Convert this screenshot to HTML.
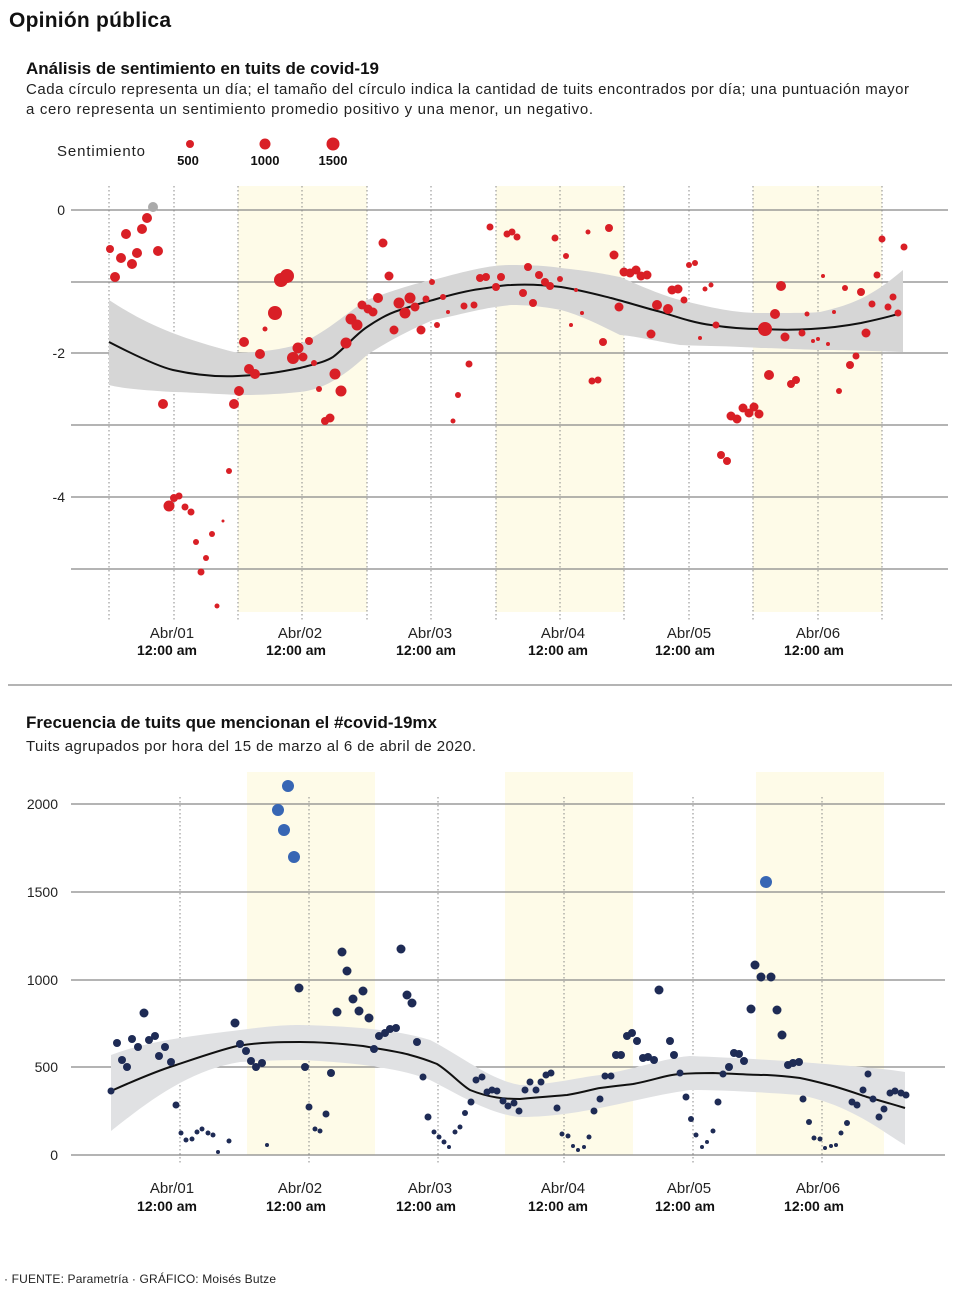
<!DOCTYPE html>
<html><head><meta charset="utf-8"><style>
html,body{margin:0;padding:0;background:#fff}
svg{display:block;font-family:"Liberation Sans",sans-serif}
</style></head><body>
<svg width="958" height="1290" viewBox="0 0 958 1290" xmlns="http://www.w3.org/2000/svg">
<rect width="958" height="1290" fill="#fff"/>
<text x="9" y="27" font-size="21" font-weight="bold" fill="#111" textLength="162">Opinión pública</text>
<text x="26" y="74" font-size="17" font-weight="bold" fill="#111" textLength="353">Análisis de sentimiento en tuits de covid-19</text>
<text x="26" y="94" font-size="15" fill="#222" textLength="883">Cada círculo representa un día; el tamaño del círculo indica la cantidad de tuits encontrados por día; una puntuación mayor</text>
<text x="26" y="114" font-size="15" fill="#222" textLength="567">a cero representa un sentimiento promedio positivo y una menor, un negativo.</text>
<text x="57" y="156" font-size="15" fill="#222" textLength="88">Sentimiento</text>
<circle cx="190" cy="144" r="4" fill="#d91f26"/><circle cx="265" cy="144" r="5.5" fill="#d91f26"/><circle cx="333" cy="144" r="6.5" fill="#d91f26"/>
<g font-size="13" font-weight="bold" fill="#111" text-anchor="middle"><text x="188" y="165">500</text><text x="265" y="165">1000</text><text x="333" y="165">1500</text></g>

<!-- top chart -->
<g fill="#fefbe8"><rect x="238" y="186" width="129" height="426"/><rect x="496" y="186" width="128" height="426"/><rect x="753" y="186" width="129" height="426"/></g>
<g stroke="#888" stroke-width="1.2"><line x1="71" y1="210" x2="948" y2="210"/><line x1="71" y1="282" x2="948" y2="282"/><line x1="71" y1="353" x2="948" y2="353"/><line x1="71" y1="425" x2="948" y2="425"/><line x1="71" y1="497" x2="948" y2="497"/><line x1="71" y1="569" x2="948" y2="569"/></g>
<g stroke="#888" stroke-width="1" stroke-dasharray="1.5,2.5"><line x1="109" y1="186" x2="109" y2="622"/><line x1="174" y1="186" x2="174" y2="622"/><line x1="238" y1="186" x2="238" y2="622"/><line x1="302" y1="186" x2="302" y2="622"/><line x1="367" y1="186" x2="367" y2="622"/><line x1="431" y1="186" x2="431" y2="622"/><line x1="496" y1="186" x2="496" y2="622"/><line x1="560" y1="186" x2="560" y2="622"/><line x1="624" y1="186" x2="624" y2="622"/><line x1="689" y1="186" x2="689" y2="622"/><line x1="753" y1="186" x2="753" y2="622"/><line x1="818" y1="186" x2="818" y2="622"/><line x1="882" y1="186" x2="882" y2="622"/></g>
<g font-size="14" fill="#222" text-anchor="end"><text x="65" y="215">0</text><text x="65" y="358">-2</text><text x="65" y="502">-4</text></g>
<path d="M109,300 C140,320 170,336 238,353 C270,352 290,347 300,344 C330,330 350,310 367,300 C400,288 420,282 433,280 C470,270 490,265 511,265 C540,265 555,267 561,268 C590,271 605,274 620,277 C650,290 665,296 680,300 C720,310 740,313 761,313 C790,313 810,313 820,312 C850,305 870,298 903,270 L903,352 C870,351 850,350 820,350 C790,349 770,348 761,348 C730,346 700,346 680,345 C650,340 635,336 620,335 C600,325 580,315 561,310 C540,306 525,305 511,305 C480,308 460,315 433,320 C410,330 390,340 367,355 C340,380 320,390 300,392 C270,395 250,395 238,395 C200,393 180,392 173,392 C140,390 120,388 109,385 Z" fill="#d6d6d6"/>
<path d="M109,342 C140,358 160,367 173,370 C200,376 220,377 238,376 C265,375 285,371 300,368 C315,364 325,362 333,357 C345,348 355,335 367,327 C380,318 390,313 400,310 C415,305 425,302 433,300 C450,295 465,291 480,289 C495,287 503,285 511,285 C530,284 545,285 561,287 C580,290 595,294 611,298 C630,303 645,308 661,312 C680,318 695,323 711,325 C730,328 745,329 761,329 C780,330 795,330 811,329 C830,328 845,326 861,323 C875,320 888,317 898,314" fill="none" stroke="#111" stroke-width="2"/>
<g fill="#d91f26">
<circle cx="110" cy="249" r="4"/><circle cx="115" cy="277" r="5"/><circle cx="121" cy="258" r="5"/><circle cx="126" cy="234" r="5"/><circle cx="132" cy="264" r="5"/><circle cx="137" cy="253" r="5"/><circle cx="142" cy="229" r="5"/><circle cx="147" cy="218" r="5"/><circle cx="158" cy="251" r="5"/><circle cx="163" cy="404" r="5"/><circle cx="169" cy="506" r="5.5"/><circle cx="174" cy="498" r="4"/><circle cx="179" cy="496" r="3.5"/><circle cx="185" cy="507" r="3.5"/><circle cx="191" cy="512" r="3.5"/><circle cx="196" cy="542" r="3"/><circle cx="201" cy="572" r="3.5"/><circle cx="206" cy="558" r="3"/><circle cx="212" cy="534" r="3"/><circle cx="217" cy="606" r="2.5"/><circle cx="223" cy="521" r="1.5"/><circle cx="229" cy="471" r="3"/><circle cx="234" cy="404" r="5"/><circle cx="239" cy="391" r="5"/><circle cx="244" cy="342" r="5"/><circle cx="249" cy="369" r="5"/><circle cx="255" cy="374" r="5"/><circle cx="260" cy="354" r="5"/><circle cx="265" cy="329" r="2.5"/><circle cx="275" cy="313" r="7"/><circle cx="281" cy="280" r="7"/><circle cx="287" cy="276" r="7"/><circle cx="293" cy="358" r="6"/><circle cx="298" cy="348" r="5.5"/><circle cx="303" cy="357" r="4.5"/><circle cx="309" cy="341" r="4"/><circle cx="314" cy="363" r="3"/><circle cx="319" cy="389" r="3"/><circle cx="325" cy="421" r="4"/><circle cx="330" cy="418" r="4.5"/><circle cx="335" cy="374" r="5.5"/><circle cx="341" cy="391" r="5.5"/><circle cx="346" cy="343" r="5.5"/><circle cx="351" cy="319" r="5.5"/><circle cx="357" cy="325" r="5.5"/><circle cx="362" cy="305" r="4.5"/><circle cx="368" cy="309" r="4.5"/><circle cx="373" cy="312" r="4.5"/><circle cx="378" cy="298" r="5"/><circle cx="383" cy="243" r="4.5"/><circle cx="389" cy="276" r="4.5"/><circle cx="394" cy="330" r="4.5"/><circle cx="399" cy="303" r="5.5"/><circle cx="405" cy="313" r="5.5"/><circle cx="410" cy="298" r="5.5"/><circle cx="415" cy="307" r="4.5"/><circle cx="421" cy="330" r="4.5"/><circle cx="426" cy="299" r="3.5"/><circle cx="432" cy="282" r="3"/><circle cx="437" cy="325" r="3"/><circle cx="443" cy="297" r="3"/><circle cx="448" cy="312" r="2"/><circle cx="453" cy="421" r="2.5"/><circle cx="458" cy="395" r="3"/><circle cx="464" cy="306" r="3.5"/><circle cx="469" cy="364" r="3.5"/><circle cx="474" cy="305" r="3.5"/><circle cx="480" cy="278" r="4"/>
<circle cx="486" cy="277" r="4"/><circle cx="490" cy="227" r="3.5"/><circle cx="496" cy="287" r="4"/><circle cx="501" cy="277" r="4"/><circle cx="507" cy="234" r="3.5"/><circle cx="512" cy="232" r="3.5"/><circle cx="517" cy="237" r="3.5"/><circle cx="523" cy="293" r="4"/><circle cx="528" cy="267" r="4"/><circle cx="533" cy="303" r="4"/><circle cx="539" cy="275" r="4"/><circle cx="545" cy="282" r="4"/><circle cx="550" cy="286" r="4"/><circle cx="555" cy="238" r="3.5"/><circle cx="560" cy="279" r="3"/><circle cx="566" cy="256" r="3"/><circle cx="571" cy="325" r="2"/><circle cx="576" cy="290" r="2"/><circle cx="582" cy="313" r="2"/><circle cx="588" cy="232" r="2.5"/><circle cx="592" cy="381" r="3.5"/><circle cx="598" cy="380" r="3.5"/><circle cx="603" cy="342" r="4"/><circle cx="609" cy="228" r="4"/><circle cx="614" cy="255" r="4.5"/><circle cx="619" cy="307" r="4.5"/><circle cx="624" cy="272" r="4.5"/><circle cx="630" cy="273" r="4.5"/><circle cx="636" cy="270" r="4.5"/><circle cx="641" cy="276" r="4.5"/><circle cx="647" cy="275" r="4.5"/><circle cx="651" cy="334" r="4.5"/><circle cx="657" cy="305" r="5"/><circle cx="668" cy="309" r="5"/><circle cx="672" cy="290" r="4.5"/><circle cx="678" cy="289" r="4.5"/><circle cx="684" cy="300" r="3.5"/><circle cx="689" cy="265" r="3"/><circle cx="695" cy="263" r="3"/><circle cx="700" cy="338" r="2"/><circle cx="705" cy="289" r="2.5"/><circle cx="711" cy="285" r="2.5"/><circle cx="716" cy="325" r="3.5"/><circle cx="721" cy="455" r="4"/><circle cx="727" cy="461" r="4"/><circle cx="731" cy="416" r="4.5"/><circle cx="737" cy="419" r="4.5"/><circle cx="743" cy="408" r="4.5"/><circle cx="749" cy="413" r="4.5"/><circle cx="754" cy="407" r="4.5"/><circle cx="759" cy="414" r="4.5"/><circle cx="765" cy="329" r="7"/><circle cx="769" cy="375" r="5"/><circle cx="775" cy="314" r="5"/><circle cx="781" cy="286" r="5"/><circle cx="785" cy="337" r="4.5"/><circle cx="791" cy="384" r="4"/><circle cx="796" cy="380" r="4"/><circle cx="802" cy="333" r="3.5"/><circle cx="807" cy="314" r="2.5"/><circle cx="813" cy="341" r="2"/><circle cx="818" cy="339" r="2"/><circle cx="823" cy="276" r="2"/><circle cx="828" cy="344" r="2"/><circle cx="834" cy="312" r="2"/><circle cx="839" cy="391" r="3"/><circle cx="845" cy="288" r="3"/><circle cx="850" cy="365" r="4"/><circle cx="856" cy="356" r="3.5"/><circle cx="861" cy="292" r="4"/><circle cx="866" cy="333" r="4.5"/><circle cx="872" cy="304" r="3.5"/><circle cx="877" cy="275" r="3.5"/><circle cx="882" cy="239" r="3.5"/><circle cx="888" cy="307" r="3.5"/><circle cx="893" cy="297" r="3.5"/><circle cx="898" cy="313" r="3.5"/><circle cx="904" cy="247" r="3.5"/>
</g>
<circle cx="153" cy="207" r="5" fill="#aaa"/>
<g font-size="15" fill="#222" text-anchor="middle"><text x="172" y="638">Abr/01</text><text x="300" y="638">Abr/02</text><text x="430" y="638">Abr/03</text><text x="563" y="638">Abr/04</text><text x="689" y="638">Abr/05</text><text x="818" y="638">Abr/06</text></g>
<g font-size="14" font-weight="bold" fill="#111" text-anchor="middle"><text x="167" y="655">12:00 am</text><text x="296" y="655">12:00 am</text><text x="426" y="655">12:00 am</text><text x="558" y="655">12:00 am</text><text x="685" y="655">12:00 am</text><text x="814" y="655">12:00 am</text></g>

<line x1="8" y1="685" x2="952" y2="685" stroke="#888" stroke-width="1.2"/>

<!-- bottom chart -->
<text x="26" y="728" font-size="17" font-weight="bold" fill="#111" textLength="411">Frecuencia de tuits que mencionan el #covid-19mx</text>
<text x="26" y="751" font-size="15" fill="#222" textLength="450">Tuits agrupados por hora del 15 de marzo al 6 de abril de 2020.</text>
<g fill="#fefbe8"><rect x="247" y="772" width="128" height="383"/><rect x="505" y="772" width="128" height="383"/><rect x="756" y="772" width="128" height="383"/></g>
<g stroke="#888" stroke-width="1.2"><line x1="71" y1="804" x2="945" y2="804"/><line x1="71" y1="892" x2="945" y2="892"/><line x1="71" y1="980" x2="945" y2="980"/><line x1="71" y1="1067" x2="945" y2="1067"/><line x1="71" y1="1155" x2="945" y2="1155"/></g>
<g stroke="#888" stroke-width="1" stroke-dasharray="1.5,2.5"><line x1="180" y1="797" x2="180" y2="1165"/><line x1="309" y1="797" x2="309" y2="1165"/><line x1="438" y1="797" x2="438" y2="1165"/><line x1="564" y1="797" x2="564" y2="1165"/><line x1="693" y1="797" x2="693" y2="1165"/><line x1="822" y1="797" x2="822" y2="1165"/></g>
<g font-size="14" fill="#222" text-anchor="end"><text x="58" y="809">2000</text><text x="58" y="897">1500</text><text x="58" y="985">1000</text><text x="58" y="1072">500</text><text x="58" y="1160">0</text></g>
<path d="M111,1055 C150,1040 200,1035 240,1030 C270,1026 285,1025 300,1025 C350,1026 400,1030 430,1040 C460,1055 490,1080 520,1085 C550,1085 575,1078 600,1075 C640,1068 665,1058 690,1056 C740,1058 770,1060 800,1062 C850,1066 880,1068 905,1072 L905,1145 C880,1130 850,1105 800,1095 C760,1092 720,1090 690,1090 C660,1094 630,1102 600,1108 C570,1114 545,1117 520,1117 C490,1114 465,1098 430,1080 C400,1068 350,1062 300,1060 C280,1060 260,1061 240,1062 C190,1070 150,1100 111,1131 Z" fill="#e0e1e3"/>
<path d="M111,1091 C140,1078 160,1070 176,1065 C200,1057 220,1050 237,1046 C260,1042 285,1042 300,1042 C325,1042 345,1044 363,1046 C385,1050 400,1052 410,1055 C425,1059 432,1062 437,1064 C450,1072 460,1084 470,1090 C490,1098 505,1099 520,1099 C540,1097 555,1096 567,1095 C585,1092 593,1089 600,1088 C615,1086 625,1085 633,1084 C655,1080 665,1075 680,1074 C695,1073 705,1073 713,1073 C740,1074 755,1075 767,1075 C785,1076 792,1077 800,1078 C815,1081 825,1084 833,1086 C850,1091 858,1094 867,1097 C885,1102 895,1105 905,1108" fill="none" stroke="#111" stroke-width="2"/>
<g fill="#1e2b55">
<circle cx="111" cy="1091" r="3.5"/><circle cx="117" cy="1043" r="4"/><circle cx="122" cy="1060" r="4"/><circle cx="127" cy="1067" r="4"/><circle cx="132" cy="1039" r="4"/><circle cx="138" cy="1047" r="4"/><circle cx="144" cy="1013" r="4.5"/><circle cx="149" cy="1040" r="4"/><circle cx="155" cy="1036" r="4"/><circle cx="159" cy="1056" r="4"/><circle cx="165" cy="1047" r="4"/><circle cx="171" cy="1062" r="4"/><circle cx="176" cy="1105" r="3.5"/><circle cx="181" cy="1133" r="2.5"/><circle cx="186" cy="1140" r="2.5"/><circle cx="192" cy="1139" r="2.5"/><circle cx="197" cy="1132" r="2.5"/><circle cx="202" cy="1129" r="2.5"/><circle cx="208" cy="1133" r="2.5"/><circle cx="213" cy="1135" r="2.5"/><circle cx="218" cy="1152" r="2"/><circle cx="229" cy="1141" r="2.5"/><circle cx="235" cy="1023" r="4.5"/><circle cx="240" cy="1044" r="4"/><circle cx="246" cy="1051" r="4"/><circle cx="251" cy="1061" r="4"/><circle cx="256" cy="1067" r="4"/><circle cx="262" cy="1063" r="4"/><circle cx="267" cy="1145" r="2"/><circle cx="299" cy="988" r="4.5"/><circle cx="305" cy="1067" r="4"/><circle cx="309" cy="1107" r="3.5"/><circle cx="315" cy="1129" r="2.5"/><circle cx="320" cy="1131" r="2.5"/><circle cx="326" cy="1114" r="3.5"/><circle cx="331" cy="1073" r="4"/><circle cx="337" cy="1012" r="4.5"/><circle cx="342" cy="952" r="4.5"/><circle cx="347" cy="971" r="4.5"/><circle cx="353" cy="999" r="4.5"/><circle cx="359" cy="1011" r="4.5"/><circle cx="363" cy="991" r="4.5"/><circle cx="369" cy="1018" r="4.5"/><circle cx="374" cy="1049" r="4"/><circle cx="379" cy="1036" r="4"/><circle cx="385" cy="1033" r="4"/><circle cx="390" cy="1029" r="4"/><circle cx="396" cy="1028" r="4"/><circle cx="401" cy="949" r="4.5"/><circle cx="407" cy="995" r="4.5"/><circle cx="412" cy="1003" r="4.5"/><circle cx="417" cy="1042" r="4"/><circle cx="423" cy="1077" r="3.5"/><circle cx="428" cy="1117" r="3.5"/><circle cx="434" cy="1132" r="2.5"/><circle cx="439" cy="1137" r="2.5"/><circle cx="444" cy="1142" r="2.5"/><circle cx="449" cy="1147" r="2"/><circle cx="455" cy="1132" r="2.5"/><circle cx="460" cy="1127" r="2.5"/><circle cx="465" cy="1113" r="3"/><circle cx="471" cy="1102" r="3.5"/><circle cx="476" cy="1080" r="3.5"/><circle cx="482" cy="1077" r="3.5"/><circle cx="487" cy="1092" r="3.5"/><circle cx="492" cy="1090" r="3.5"/><circle cx="497" cy="1091" r="3.5"/><circle cx="503" cy="1101" r="3.5"/><circle cx="508" cy="1106" r="3.5"/><circle cx="514" cy="1103" r="3.5"/><circle cx="519" cy="1111" r="3.5"/>
<circle cx="525" cy="1090" r="3.5"/><circle cx="530" cy="1082" r="3.5"/><circle cx="536" cy="1090" r="3.5"/><circle cx="541" cy="1082" r="3.5"/><circle cx="546" cy="1075" r="3.5"/><circle cx="551" cy="1073" r="3.5"/><circle cx="557" cy="1108" r="3.5"/><circle cx="562" cy="1134" r="2.5"/><circle cx="568" cy="1136" r="2.5"/><circle cx="573" cy="1146" r="2"/><circle cx="578" cy="1150" r="2"/><circle cx="584" cy="1147" r="2"/><circle cx="589" cy="1137" r="2.5"/><circle cx="594" cy="1111" r="3.5"/><circle cx="600" cy="1099" r="3.5"/><circle cx="605" cy="1076" r="3.5"/><circle cx="611" cy="1076" r="3.5"/><circle cx="616" cy="1055" r="4"/><circle cx="621" cy="1055" r="4"/><circle cx="627" cy="1036" r="4"/><circle cx="632" cy="1033" r="4"/><circle cx="637" cy="1041" r="4"/><circle cx="643" cy="1058" r="4"/><circle cx="648" cy="1057" r="4"/><circle cx="654" cy="1060" r="4"/><circle cx="659" cy="990" r="4.5"/><circle cx="670" cy="1041" r="4"/><circle cx="674" cy="1055" r="4"/><circle cx="680" cy="1073" r="3.5"/><circle cx="686" cy="1097" r="3.5"/><circle cx="691" cy="1119" r="3"/><circle cx="696" cy="1135" r="2.5"/><circle cx="702" cy="1147" r="2"/><circle cx="707" cy="1142" r="2"/><circle cx="713" cy="1131" r="2.5"/><circle cx="718" cy="1102" r="3.5"/><circle cx="723" cy="1074" r="3.5"/><circle cx="729" cy="1067" r="4"/><circle cx="734" cy="1053" r="4"/><circle cx="739" cy="1054" r="4"/><circle cx="744" cy="1061" r="4"/><circle cx="751" cy="1009" r="4.5"/><circle cx="755" cy="965" r="4.5"/><circle cx="761" cy="977" r="4.5"/><circle cx="771" cy="977" r="4.5"/><circle cx="777" cy="1010" r="4.5"/><circle cx="782" cy="1035" r="4.5"/><circle cx="788" cy="1065" r="4"/><circle cx="793" cy="1063" r="4"/><circle cx="799" cy="1062" r="4"/><circle cx="803" cy="1099" r="3.5"/><circle cx="809" cy="1122" r="3"/><circle cx="814" cy="1138" r="2.5"/><circle cx="820" cy="1139" r="2.5"/><circle cx="825" cy="1148" r="2"/><circle cx="831" cy="1146" r="2"/><circle cx="836" cy="1145" r="2"/><circle cx="841" cy="1133" r="2.5"/><circle cx="847" cy="1123" r="3"/><circle cx="852" cy="1102" r="3.5"/><circle cx="857" cy="1105" r="3.5"/><circle cx="863" cy="1090" r="3.5"/><circle cx="868" cy="1074" r="3.5"/><circle cx="873" cy="1099" r="3.5"/><circle cx="879" cy="1117" r="3.5"/><circle cx="884" cy="1109" r="3.5"/><circle cx="890" cy="1093" r="3.5"/><circle cx="895" cy="1091" r="3.5"/><circle cx="901" cy="1093" r="3.5"/><circle cx="906" cy="1095" r="3.5"/>
</g>
<g fill="#3766b4"><circle cx="288" cy="786" r="6"/><circle cx="278" cy="810" r="6"/><circle cx="284" cy="830" r="6"/><circle cx="294" cy="857" r="6"/><circle cx="766" cy="882" r="6"/></g>
<g font-size="15" fill="#222" text-anchor="middle"><text x="172" y="1193">Abr/01</text><text x="300" y="1193">Abr/02</text><text x="430" y="1193">Abr/03</text><text x="563" y="1193">Abr/04</text><text x="689" y="1193">Abr/05</text><text x="818" y="1193">Abr/06</text></g>
<g font-size="14" font-weight="bold" fill="#111" text-anchor="middle"><text x="167" y="1211">12:00 am</text><text x="296" y="1211">12:00 am</text><text x="426" y="1211">12:00 am</text><text x="558" y="1211">12:00 am</text><text x="685" y="1211">12:00 am</text><text x="814" y="1211">12:00 am</text></g>
<text x="4" y="1283" font-size="12" fill="#222" textLength="272">· FUENTE: Parametría  · GRÁFICO: Moisés Butze</text>
</svg>
</body></html>
